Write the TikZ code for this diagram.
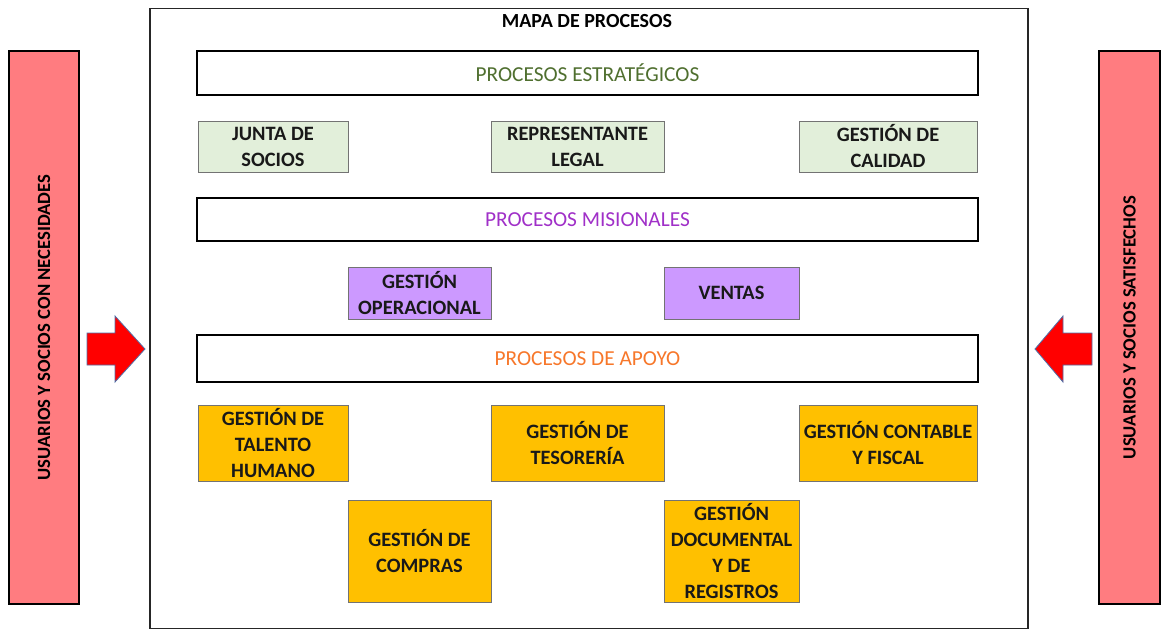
\documentclass[tikz,border=0pt]{standalone}
\usepackage{fontspec}
\setmainfont{Carlito}
\usetikzlibrary{shadows}
\definecolor{boxgreen}{HTML}{E2EFDA}
\definecolor{boxpurple}{HTML}{CC99FF}
\definecolor{boxorange}{HTML}{FFC000}
\definecolor{barpink}{HTML}{FF7C80}
\definecolor{txtgreen}{HTML}{4F6F2F}
\definecolor{txtpurple}{HTML}{A030C8}
\definecolor{txtorange}{HTML}{F7772A}
\definecolor{arrowred}{HTML}{FF0000}
\definecolor{arrowblue}{HTML}{4F6FA8}
\begin{document}
\begin{tikzpicture}[x=0.75pt,y=-0.75pt,
  band/.style={draw=black, line width=1.6pt, fill=white, inner sep=0pt,
    minimum width=585.75pt, font=\fontsize{16}{18}\selectfont,
    drop shadow={shadow xshift=0.8pt, shadow yshift=-0.8pt, fill=black!35, opacity=1}},
  pbox/.style={draw=black!55, line width=0.6pt, inner sep=0pt, align=center,
    font=\bfseries\fontsize{15.3}{19.5}\selectfont, text=black!90,
    drop shadow={shadow xshift=0.6pt, shadow yshift=-0.6pt, fill=black!30, opacity=1}},
  greenbox/.style={pbox, fill=boxgreen, minimum height=38.25pt},
  purplebox/.style={pbox, fill=boxpurple, minimum height=39pt},
  orangebox/.style={pbox, fill=boxorange},
  pinkbar/.style={draw=black, line width=1.4pt, fill=barpink, inner sep=0pt,
    minimum height=414.75pt,
    drop shadow={shadow xshift=0.6pt, shadow yshift=-0.6pt, fill=black!30, opacity=1}},
  bartext/.style={rotate=90, font=\bfseries\fontsize{14}{16}\selectfont},
  bigarrow/.style={fill=arrowred, draw=arrowblue, line width=0.6pt, line join=miter}
]
\useasboundingbox (0,0) rectangle (1163,631);
\fill[white] (0,0) rectangle (1163,631);

% outer frame
\node[draw=black!85, line width=1.4pt, minimum width=658.5pt, minimum height=465pt, inner sep=0pt] (frame) at (589,318.5) {};
\node[font=\bfseries\fontsize{15}{17}\selectfont] (title) at (587,21) {MAPA DE PROCESOS};

% bands
\node[band, minimum height=33pt, text=txtgreen] (estr) at (587.5,73) {PROCESOS ESTRATÉGICOS};
\node[band, minimum height=32.25pt, text=txtpurple] (misi) at (587.5,219.5) {PROCESOS MISIONALES};
\node[band, minimum height=35.25pt, text=txtorange] (apoyo) at (587.5,358.5) {PROCESOS DE APOYO};

% strategic
\node[greenbox, minimum width=112.5pt] (junta) at (273,146.5) {JUNTA DE\\SOCIOS};
\node[greenbox, minimum width=129.75pt] (repr) at (577.5,146.5) {REPRESENTANTE\\LEGAL};
\node[greenbox, minimum width=133.5pt] (cal) at (888,146.5) {GESTIÓN DE\\CALIDAD};

% missional
\node[purplebox, minimum width=107.25pt] (oper) at (419.5,293) {GESTIÓN\\OPERACIONAL};
\node[purplebox, minimum width=101.25pt] (vent) at (731.5,293) {VENTAS};

% support row 1
\node[orangebox, minimum width=112.5pt, minimum height=57pt] (tal) at (273,443) {GESTIÓN DE\\TALENTO\\HUMANO};
\node[orangebox, minimum width=129.75pt, minimum height=57pt] (tes) at (577.5,443) {GESTIÓN DE\\TESORERÍA};
\node[orangebox, minimum width=133.5pt, minimum height=57pt] (cont) at (888,443) {GESTIÓN CONTABLE\\Y FISCAL};

% support row 2
\node[orangebox, minimum width=107.25pt, minimum height=76.5pt] (comp) at (419.5,551) {GESTIÓN DE\\COMPRAS};
\node[orangebox, minimum width=101.25pt, minimum height=76.5pt] (doc) at (731.5,551) {GESTIÓN\\DOCUMENTAL\\Y DE\\REGISTROS};

% side bars
\node[pinkbar, minimum width=52.5pt] (left) at (44,327.5) {};
\node[bartext] (lefttxt) at (left.center) {USUARIOS Y SOCIOS CON NECESIDADES};
\node[pinkbar, minimum width=45.75pt] (right) at (1129.5,327.5) {};
\node[bartext] (righttxt) at (right.center) {USUARIOS Y SOCIOS SATISFECHOS};

% arrows
\draw[bigarrow] (87,333) -- (115,333) -- (115,316) -- (145,349) -- (115,382) -- (115,365) -- (87,365) -- cycle;
\draw[bigarrow] (1092,333) -- (1063,333) -- (1063,316) -- (1035,349) -- (1063,382) -- (1063,365) -- (1092,365) -- cycle;
\end{tikzpicture}
\end{document}
